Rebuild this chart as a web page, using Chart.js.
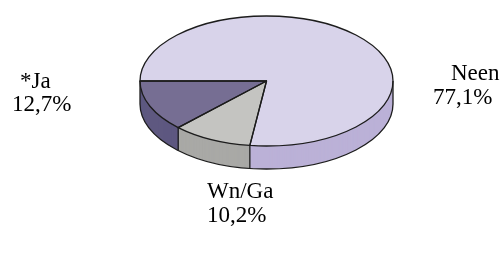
<!DOCTYPE html>
<html>
<head>
<meta charset="utf-8">
<script src="https://cdn.jsdelivr.net/npm/chart.js@4/dist/chart.umd.min.js"></script>
<style>
  html, body { margin: 0; padding: 0; background: #fff; }
  #pie { display: block; }
</style>
</head>
<body>
<canvas id="pie" width="504" height="256"></canvas>
<script>
// data
const categories = ["Neen", "Wn/Ga", "*Ja"];
const shares = [77.1, 10.2, 12.7];

// colours: top face and side wall of each slice
const topColors = ["#D8D3EA", "#C4C4C1", "#766E93"];
const sideColors = ["#BBB1D7", "#A9A9A6", "#5E5880"];
const lineColor = "#1c1c1c";

// 3D look: vertical squash and wall thickness (screen px)
const squash = 0.514;
const centerY = 81;
const thickness = 23;

// label placement: [x, baseline] for the name line and the % line
const labelPos = [
  [[451, 80], [433, 104]],
  [[207, 198], [207, 222]],
  [[20, 88], [12, 111]],
];

const fmtPct = (v) => v.toFixed(1).replace(".", ",") + "%";

const pie3d = {
  id: "pie3d",
  beforeDatasetsDraw(chart) {
    const ctx = chart.ctx;
    const arcs = chart.getDatasetMeta(0).data;
    const cy = arcs[0].y;
    ctx.save();
    // squash the circle into an ellipse centred at centerY
    ctx.translate(0, centerY);
    ctx.scale(1, squash);
    ctx.translate(0, -cy);

    // side wall: stack copies of the slices downwards
    for (let d = thickness; d >= 1; d--) {
      ctx.save();
      ctx.translate(0, d / squash);
      arcs.forEach((arc, i) => {
        const layer = Object.create(arc);
        layer.options = Object.assign({}, arc.options, {
          backgroundColor: sideColors[i],
          borderWidth: 0,
        });
        layer.draw(ctx);
      });
      ctx.restore();
    }
  },
  afterDatasetsDraw(chart) {
    const ctx = chart.ctx;
    ctx.restore();

    const arcs = chart.getDatasetMeta(0).data;
    const cx = arcs[0].x;
    const rx = arcs[0].outerRadius;
    const ry = rx * squash;
    const pt = (a) => [cx + rx * Math.cos(a), centerY + ry * Math.sin(a)];

    ctx.save();
    ctx.strokeStyle = lineColor;
    ctx.lineWidth = 1.3;
    ctx.lineJoin = "round";

    // outline of every top slice
    arcs.forEach((arc) => {
      const [x0, y0] = pt(arc.startAngle);
      ctx.beginPath();
      ctx.moveTo(cx, centerY);
      ctx.lineTo(x0, y0);
      ctx.ellipse(cx, centerY, rx, ry, 0, arc.startAngle, arc.endAngle);
      ctx.closePath();
      ctx.stroke();
    });

    // bottom rim of the wall
    ctx.beginPath();
    ctx.ellipse(cx, centerY + thickness, rx, ry, 0, 0, Math.PI);
    ctx.stroke();

    // vertical edges: silhouette and front slice boundaries
    const edges = [0, Math.PI];
    arcs.forEach((arc) => {
      const a = ((arc.startAngle % (2 * Math.PI)) + 2 * Math.PI) % (2 * Math.PI);
      if (a > 0.01 && a < Math.PI - 0.01) edges.push(a);
    });
    edges.forEach((a) => {
      const [x, y] = pt(a);
      ctx.beginPath();
      ctx.moveTo(x, y);
      ctx.lineTo(x, y + thickness);
      ctx.stroke();
    });
    ctx.restore();
  },
  afterDraw(chart) {
    const ctx = chart.ctx;
    ctx.save();
    ctx.fillStyle = "#000";
    ctx.font = '23px "Liberation Serif", "Times New Roman", serif';
    ctx.textAlign = "left";
    ctx.textBaseline = "alphabetic";
    categories.forEach((name, i) => {
      const [p1, p2] = labelPos[i];
      ctx.fillText(name, p1[0], p1[1]);
      ctx.fillText(fmtPct(shares[i]), p2[0], p2[1]);
    });
    ctx.restore();
  },
};

new Chart(document.getElementById("pie").getContext("2d"), {
  type: "pie",
  data: {
    labels: categories,
    datasets: [
      {
        data: shares,
        backgroundColor: topColors,
        borderWidth: 0,
        clip: false,
      },
    ],
  },
  options: {
    responsive: false,
    animation: false,
    devicePixelRatio: 1,
    rotation: 270,
    layout: { padding: { left: 140, right: 111, top: 1, bottom: 1 } },
    plugins: {
      legend: { display: false },
      tooltip: { enabled: false },
    },
  },
  plugins: [pie3d],
});
</script>
</body>
</html>
